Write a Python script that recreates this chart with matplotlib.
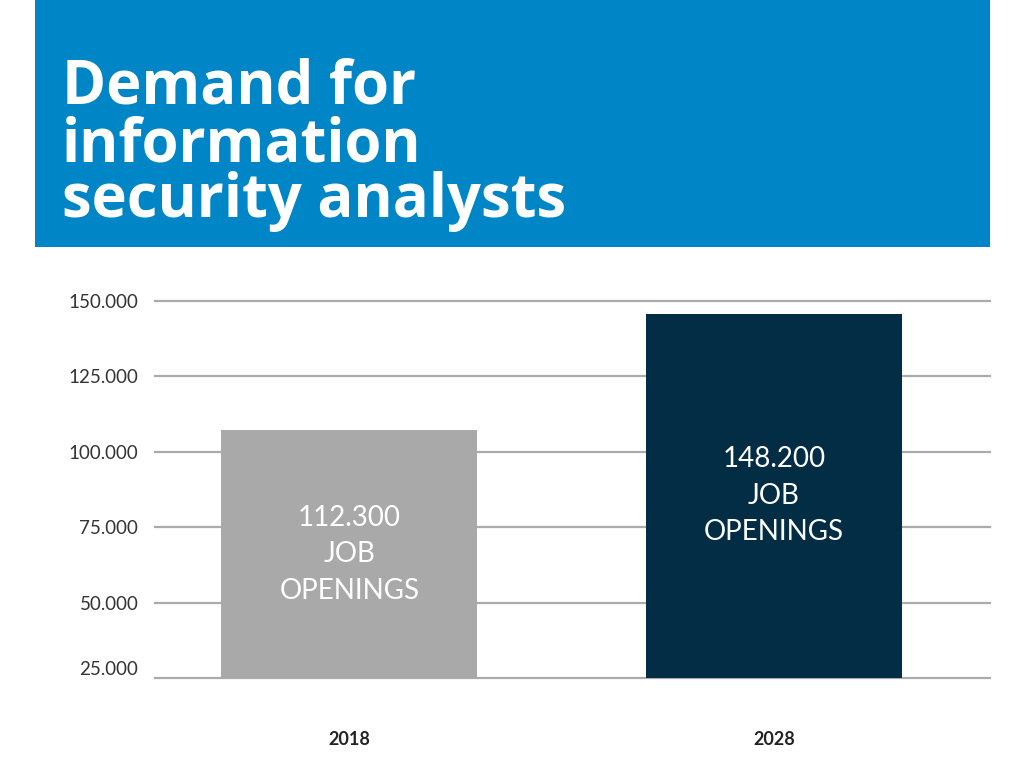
import matplotlib.pyplot as plt
from matplotlib.patches import Rectangle

# data
years = ['2018', '2028']
bar_heights = [107200, 145700]        # drawn height of each bar
openings_text = ['112.300', '148.200']  # number printed inside each bar
y_ticks = [25000, 50000, 75000, 100000, 125000, 150000]
y_tick_labels = ['25.000', '50.000', '75.000', '100.000', '125.000', '150.000']
title_lines = ['Demand for', 'information', 'security analysts']

BLUE = '#0085c6'
GREY_BAR = '#a9a9a9'
NAVY_BAR = '#022d44'
GRID = '#ababab'

fig = plt.figure(figsize=(10.24, 7.68), dpi=100)
fig.patch.set_facecolor('white')

# blue header block
fig.patches.append(Rectangle((35 / 1024, 1 - 247 / 768), 955 / 1024, 247 / 768,
                             transform=fig.transFigure, facecolor=BLUE,
                             edgecolor='none', zorder=0))
baselines = [104, 161, 217]
for line, yb in zip(title_lines, baselines):
    fig.text(62 / 1024, 1 - yb / 768, line, color='white', fontsize=43,
             fontweight='bold', family=['Open Sans', 'DejaVu Sans'],
             va='baseline', ha='left')

# chart area
ax = fig.add_axes([155 / 1024, 1 - 678 / 768, 835 / 1024, 377 / 768])
x = [0, 1]
bars = ax.bar(x, [h - 25000 for h in bar_heights], bottom=25000, width=0.603,
              color=[GREY_BAR, NAVY_BAR], zorder=3)

for xi, h, txt in zip(x, bar_heights, openings_text):
    ax.text(xi, (25000 + h) / 2, f'{txt}\nJOB\nOPENINGS', color='white',
            fontsize=20, family=['Lato', 'DejaVu Sans'], fontweight='normal',
            ha='center', va='center', linespacing=1.5, zorder=4)

ax.set_xlim(-0.458, 1.509)
ax.set_ylim(25000, 150000)
ax.set_yticks(y_ticks)
ax.set_yticklabels(y_tick_labels, family=['Lato', 'DejaVu Sans'],
                   fontsize=13.5, color='#333333')
ax.get_yticklabels()[0].set_va('bottom')
ax.set_xticks(x)
ax.set_xticklabels(years, family=['Lato', 'DejaVu Sans'], fontsize=13,
                   fontweight='bold', color='#222222')
ax.tick_params(axis='y', length=0, pad=12)
ax.tick_params(axis='x', length=0, pad=38)

for v in y_ticks:
    ax.axhline(v, color=GRID, linewidth=1.6, zorder=1, clip_on=False)
for s in ax.spines.values():
    s.set_visible(False)
ax.set_facecolor('none')

fig.savefig('out.png', dpi=100)
